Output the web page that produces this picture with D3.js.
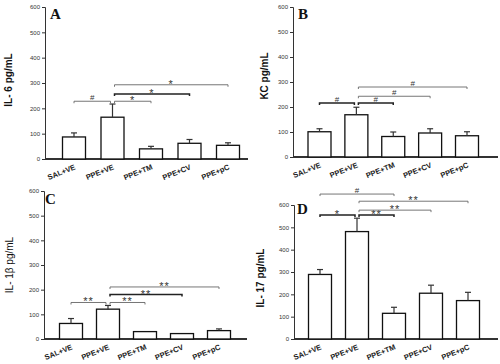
<!DOCTYPE html>
<html>
<head>
<meta charset="utf-8">
<script src="https://cdn.jsdelivr.net/npm/d3@7"></script>
<style>
  body { margin: 0; background: #fff; }
  svg { display: block; font-family: "Liberation Sans", Arial, sans-serif; }
  .tick text { fill: #333; }
</style>
</head>
<body>
<svg id="chart" width="500" height="364"></svg>
<script>
// groups on the x axis
const groups = ['SAL+VE', 'PPE+VE', 'PPE+TM', 'PPE+CV', 'PPE+pC'];
const yTicks = [0, 100, 200, 300, 400, 500, 600];

// pg/mL, mean and SEM
const il6 = [87, 165, 40, 62, 54];
const il6Err = [16, 52, 10, 15, 10];
const kc = [101, 169, 82, 96, 85];
const kcErr = [12, 30, 18, 17, 16];
const il1b = [63, 121, 30, 22, 34];
const il1bErr = [20, 15, 0, 0, 7];
const il17 = [289, 481, 115, 205, 172];
const il17Err = [22, 60, 27, 36, 37];

// significance brackets: from group, to group, height (pg/mL), symbol, heavy line
const sigA = [
  [0, 1, 228, '#', 0], [1, 2, 228, '*', 0], [1, 3, 257, '*', 1], [1, 4, 293, '*', 0]
];
const sigB = [
  [0, 1, 216, '#', 1], [1, 2, 216, '#', 1], [1, 3, 243, '#', 0], [1, 4, 280, '#', 0]
];
const sigC = [
  [0, 1, 148, '**', 0], [1, 2, 148, '**', 0], [1, 3, 180, '**', 1], [1, 4, 211, '**', 0]
];
const sigD = [
  [0, 1, 555, '*', 1], [1, 2, 555, '**', 1], [1, 3, 577, '**', 0], [1, 4, 617, '**', 0], [0, 2, 649, '#', 0]
];

const svg = d3.select('#chart');

const panels = [
  { letter: 'A', label: 'IL- 6 pg/mL', bold: true, values: il6, errs: il6Err, sig: sigA,
    x0: 45, x1: 248, top: 7, bottom: 159, c0: 74, c4: 228, lx: 12, ly: 80, letterX: 50, letterY: 19 },
  { letter: 'B', label: 'KC pg/mL', bold: true, values: kc, errs: kcErr, sig: sigB,
    x0: 293, x1: 498, top: 7, bottom: 157, c0: 319.5, c4: 467, lx: 268, ly: 76, letterX: 298, letterY: 19 },
  { letter: 'C', label: 'IL- 1β pg/mL', bold: false, values: il1b, errs: il1bErr, sig: sigC,
    x0: 44, x1: 247, top: 191, bottom: 339, c0: 71, c4: 219, lx: 13, ly: 265, letterX: 45, letterY: 204 },
  { letter: 'D', label: 'IL- 17 pg/mL', bold: true, values: il17, errs: il17Err, sig: sigD,
    x0: 294, x1: 498, top: 205, bottom: 339, c0: 320, c4: 468, lx: 264, ly: 278, letterX: 297, letterY: 214 }
];

const BAR_W = 23;

panels.forEach(p => {
  const g = svg.append('g');

  const x = d3.scalePoint().domain(groups).range([p.c0, p.c4]);
  const y = d3.scaleLinear().domain([0, 600]).range([p.bottom, p.top]);

  // y axis
  const yAxis = d3.axisLeft(y).tickValues(yTicks).tickSize(3).tickPadding(2);
  const ga = g.append('g').attr('transform', `translate(${p.x0},0)`).call(yAxis);
  ga.select('.domain').attr('stroke', '#333').attr('stroke-width', 1);
  ga.selectAll('.tick line').attr('stroke', '#333');
  ga.selectAll('.tick text').attr('font-size', 6);

  // x axis baseline
  g.append('line')
    .attr('x1', p.x0).attr('x2', p.x1)
    .attr('y1', p.bottom).attr('y2', p.bottom)
    .attr('stroke', '#333').attr('stroke-width', 1.8);

  // bars
  g.selectAll('rect.bar')
    .data(p.values)
    .join('rect')
    .attr('class', 'bar')
    .attr('x', (d, i) => x(groups[i]) - BAR_W / 2)
    .attr('y', d => y(d))
    .attr('width', BAR_W)
    .attr('height', d => y(0) - y(d))
    .attr('fill', '#fff')
    .attr('stroke', '#111')
    .attr('stroke-width', 1.3);

  // error bars (upper only)
  const eb = g.selectAll('g.err')
    .data(p.values.map((v, i) => ({ v, e: p.errs[i], i })).filter(d => d.e > 0))
    .join('g')
    .attr('class', 'err')
    .attr('stroke', '#333')
    .attr('stroke-width', 1.2);
  eb.append('line')
    .attr('x1', d => x(groups[d.i])).attr('x2', d => x(groups[d.i]))
    .attr('y1', d => y(d.v)).attr('y2', d => y(d.v + d.e));
  eb.append('line')
    .attr('x1', d => x(groups[d.i]) - 3).attr('x2', d => x(groups[d.i]) + 3)
    .attr('y1', d => y(d.v + d.e)).attr('y2', d => y(d.v + d.e));

  // x labels
  g.selectAll('text.xlab')
    .data(groups)
    .join('text')
    .attr('class', 'xlab')
    .attr('transform', d => `translate(${x(d) + 2},${p.bottom + 10}) rotate(-22)`)
    .attr('text-anchor', 'end')
    .attr('font-size', 7.5)
    .attr('font-weight', 'bold')
    .attr('fill', '#222')
    .text(d => d);

  // y label
  g.append('text')
    .attr('transform', `translate(${p.lx},${p.ly}) rotate(-90)`)
    .attr('text-anchor', 'middle')
    .attr('font-size', 10)
    .attr('font-weight', p.bold ? 'bold' : 'normal')
    .attr('fill', '#111')
    .text(p.label);

  // panel letter
  g.append('text')
    .attr('x', p.letterX).attr('y', p.letterY)
    .attr('font-family', '"Liberation Serif", "Times New Roman", serif')
    .attr('font-weight', 'bold')
    .attr('font-size', 15)
    .attr('fill', '#111')
    .text(p.letter);

  // significance brackets
  p.sig.forEach(([a, b, h, sym, heavy]) => {
    let xa = x(groups[a]);
    let xb = x(groups[b]);
    if (a === 1) xa += 2;
    if (b === 1) xb -= 2;
    const yy = y(h);
    g.append('path')
      .attr('d', `M${xa},${yy + 2}V${yy}H${xb}V${yy + 2}`)
      .attr('fill', 'none')
      .attr('stroke', heavy ? '#222' : '#666')
      .attr('stroke-width', heavy ? 1.5 : 0.9);
    const star = sym.includes('*');
    g.append('text')
      .attr('x', (xa + xb) / 2)
      .attr('y', star ? yy + 3 : yy - 1)
      .attr('text-anchor', 'middle')
      .attr('font-size', star ? 11 : 8)
      .attr('letter-spacing', star ? 1 : 0)
      .attr('fill', '#333')
      .text(sym);
  });
});
</script>
</body>
</html>
